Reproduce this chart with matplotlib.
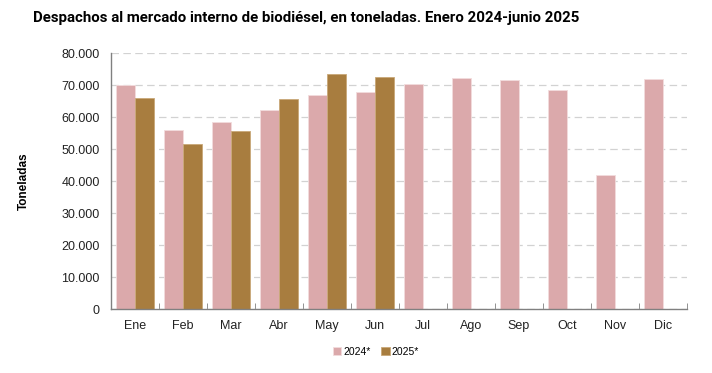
import numpy as np
import matplotlib.pyplot as plt
from matplotlib.ticker import FuncFormatter, MultipleLocator

months = ["Ene", "Feb", "Mar", "Abr", "May", "Jun", "Jul", "Ago", "Sep", "Oct", "Nov", "Dic"]
vals_2024 = [70100, 56000, 58300, 62200, 66800, 67900, 70200, 72100, 71700, 68400, 42000, 71900]
vals_2025 = [65800, 51500, 55500, 65700, 73500, 72400]
labels = ["2024*", "2025*"]

pink = "#DBA9AB"
brown = "#A87D3F"

fig = plt.figure(figsize=(7.12, 3.73), dpi=100)
ax = fig.add_axes([111/712, 1-309/373, 576/712, 256/373])

x = np.arange(len(months))
w = 0.4
ax.bar(x - w/2, vals_2024, w, color=pink, edgecolor="#F2DCDD", linewidth=0.6, label=labels[0], zorder=2)
ax.bar(np.arange(len(vals_2025)) + w/2, vals_2025, w, color=brown, edgecolor="#C9A878", linewidth=0.6, label=labels[1], zorder=2)

ax.set_xlim(-0.5, 11.5)
ax.set_ylim(0, 80000)
ax.yaxis.set_major_locator(MultipleLocator(10000))
ax.yaxis.set_major_formatter(FuncFormatter(lambda v, p: f"{int(v):,}".replace(",", ".")))
ax.yaxis.grid(True, linestyle=(0, (6, 3.5)), color="#D2D2D2", linewidth=0.9, zorder=0)

for s in ["top", "right"]:
    ax.spines[s].set_visible(False)
for s in ["left", "bottom"]:
    ax.spines[s].set_color("#808080")
    ax.spines[s].set_linewidth(1.0)

ax.set_xticks(x)
ax.set_xticklabels(months)
ax.set_xticks(np.arange(-0.5, 12, 1), minor=True)
ax.tick_params(axis="x", which="major", length=0, pad=8)
ax.tick_params(axis="x", which="minor", length=4, direction="in", color="#808080")
ax.tick_params(axis="y", length=0, pad=8)
for lab in ax.get_xticklabels() + ax.get_yticklabels():
    lab.set_family("Liberation Sans")
    lab.set_fontsize(9)
    lab.set_color("#222222")

ax.set_ylabel("Toneladas", family="Liberation Sans", fontsize=8.5, fontweight="bold", labelpad=23)

title = fig.text(33/712, 1-18/373, "Despachos al mercado interno de biodiésel, en toneladas. Enero 2024-junio 2025",
                 family=["Roboto", "DejaVu Sans"], fontstretch="condensed", fontweight="bold", fontsize=13,
                 va="center", ha="left")
# shrink the title to the width it takes in the source
fig.canvas.draw()
tw = title.get_window_extent().width
title.set_fontsize(13 * 548 / tw)

leg = fig.legend(loc="center", bbox_to_anchor=(376/712, 1-352/373), ncol=2, frameon=False,
                 prop={"family": "Liberation Sans", "size": 7.5}, handlelength=0.8, handleheight=0.8,
                 handletextpad=0.2, columnspacing=1.0)

fig.savefig("out.png", dpi=100)
